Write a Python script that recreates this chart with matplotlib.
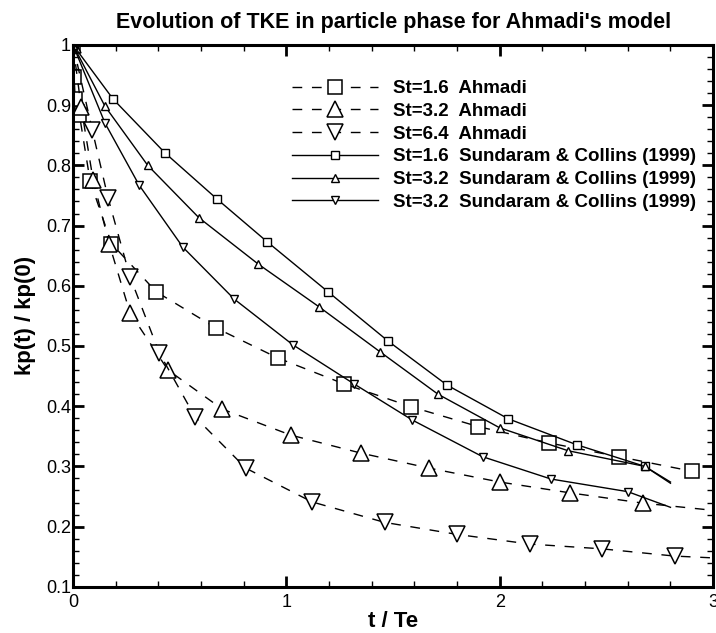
import numpy as np
import matplotlib.pyplot as plt
from matplotlib.ticker import MultipleLocator

plt.rcParams['font.family'] = ['Liberation Sans', 'DejaVu Sans']

# Ahmadi model, particle-phase TKE
t_a16 = [0, 0.005, 0.01, 0.03, 0.08, 0.18, 0.39, 0.67, 0.96, 1.27, 1.585, 1.90, 2.23, 2.56, 2.90]
k_a16 = [1, 0.947, 0.910, 0.884, 0.774, 0.670, 0.590, 0.530, 0.480, 0.437, 0.399, 0.366, 0.339, 0.316, 0.292]

t_a32 = [0, 0.038, 0.094, 0.17, 0.267, 0.445, 0.70, 1.02, 1.35, 1.67, 2.0, 2.33, 2.67, 3.0]
k_a32 = [1, 0.897, 0.776, 0.669, 0.555, 0.460, 0.395, 0.352, 0.322, 0.297, 0.274, 0.256, 0.239, 0.227]

t_a64 = [0, 0.09, 0.164, 0.267, 0.405, 0.572, 0.81, 1.12, 1.46, 1.80, 2.14, 2.48, 2.82, 3.0]
k_a64 = [1, 0.859, 0.746, 0.615, 0.488, 0.382, 0.297, 0.241, 0.207, 0.187, 0.171, 0.163, 0.151, 0.148]

# Sundaram & Collins (1999) DNS
t_s16 = [0, 0.188, 0.43, 0.675, 0.91, 1.195, 1.477, 1.753, 2.04, 2.36, 2.68, 2.80]
k_s16 = [1, 0.910, 0.821, 0.744, 0.673, 0.590, 0.508, 0.435, 0.379, 0.336, 0.300, 0.274]

t_s32 = [0, 0.15, 0.35, 0.59, 0.868, 1.153, 1.44, 1.71, 2.0, 2.32, 2.68, 2.80]
k_s32 = [1, 0.898, 0.800, 0.713, 0.636, 0.565, 0.490, 0.420, 0.364, 0.326, 0.300, 0.272]

t_s32b = [0, 0.15, 0.31, 0.515, 0.755, 1.03, 1.317, 1.59, 1.92, 2.24, 2.60, 2.80]
k_s32b = [1, 0.870, 0.767, 0.664, 0.578, 0.502, 0.437, 0.377, 0.316, 0.279, 0.258, 0.232]

labels = ['St=1.6  Ahmadi', 'St=3.2  Ahmadi', 'St=6.4  Ahmadi',
          'St=1.6  Sundaram & Collins (1999)',
          'St=3.2  Sundaram & Collins (1999)',
          'St=3.2  Sundaram & Collins (1999)']
yticklabels = ['0.1', '0.2', '0.3', '0.4', '0.5', '0.6', '0.7', '0.8', '0.9', '1']

fig = plt.figure(figsize=(7.16, 6.33), dpi=100)
ax = fig.add_axes([0.102, 0.073, 0.894, 0.856])

dash = (0, (7, 7))
big = dict(color='black', lw=1.0, mfc='white', mec='black', mew=1.1)
small = dict(color='black', lw=1.0, mfc='white', mec='black', mew=1.0)


def all_but_last(t):
    return list(range(len(t) - 1))


ax.plot(t_a16, k_a16, linestyle=dash, marker='s', ms=10, label=labels[0], **big)
ax.plot(t_a32, k_a32, linestyle=dash, marker='^', ms=11,
        markevery=all_but_last(t_a32), label=labels[1], **big)
ax.plot(t_a64, k_a64, linestyle=dash, marker='v', ms=11,
        markevery=all_but_last(t_a64), label=labels[2], **big)

ax.plot(t_s16, k_s16, '-', marker='s', ms=6,
        markevery=all_but_last(t_s16), label=labels[3], **small)
ax.plot(t_s32, k_s32, '-', marker='^', ms=6,
        markevery=all_but_last(t_s32), label=labels[4], **small)
ax.plot(t_s32b, k_s32b, '-', marker='v', ms=6,
        markevery=all_but_last(t_s32b), label=labels[5], **small)

ax.set_xlim(0, 3)
ax.set_ylim(0.1, 1)
ax.xaxis.set_major_locator(MultipleLocator(1))
ax.xaxis.set_minor_locator(MultipleLocator(0.2))
ax.yaxis.set_minor_locator(MultipleLocator(0.02))
ax.set_yticks(np.arange(0.1, 1.01, 0.1))
ax.set_yticklabels(yticklabels)

ax.tick_params(which='both', direction='in', top=True, right=True, labelsize=13)
ax.tick_params(axis='y', pad=1.5)
ax.tick_params(axis='x', pad=5)
ax.tick_params(which='major', length=8, width=2)
ax.tick_params(which='minor', length=4, width=1)
for s in ax.spines.values():
    s.set_linewidth(2.2)

ax.set_xlabel('t / Te', fontsize=16, fontweight='bold', labelpad=0)
ax.set_ylabel('kp(t) / kp(0)', fontsize=16, fontweight='bold', labelpad=7)
ax.set_title("Evolution of TKE in particle phase for Ahmadi's model",
             fontsize=15.5, fontweight='bold', pad=12)

ax.legend(loc='upper left', bbox_to_anchor=(0.330, 0.949), frameon=False,
          borderaxespad=0, handlelength=4.6, handletextpad=0.8, labelspacing=0.3,
          prop={'weight': 'bold', 'size': 13.5})

fig.savefig('out.png', dpi=100)
